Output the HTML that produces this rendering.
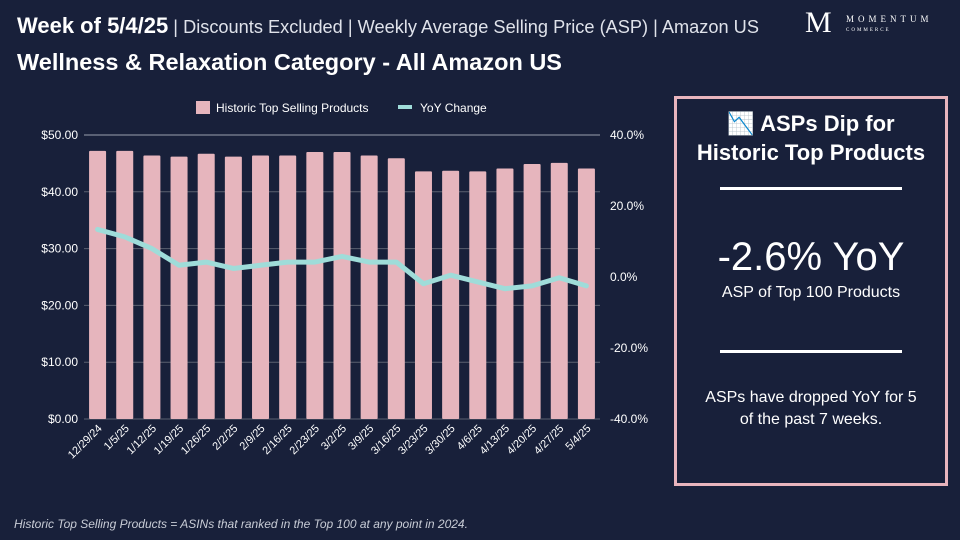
<!DOCTYPE html>
<html><head><meta charset="utf-8"><style>
body{margin:0;width:960px;height:540px;background:#18203a;font-family:"Liberation Sans",sans-serif;overflow:hidden;position:relative;color:#fff}
.h1{position:absolute;left:17px;top:13px;font-size:22px;white-space:nowrap}
.h1 b{font-weight:bold}.h1 span{font-weight:300;color:#dfe2ea;font-size:18.2px}
.h2{position:absolute;left:17px;top:49px;font-size:23.5px;font-weight:bold}
.logo{position:absolute;left:800px;top:8px;font-family:"Liberation Serif",serif}
.panel{position:absolute;left:674px;top:96px;width:268px;height:384px;border:3px solid #e8b4bd}
.foot{position:absolute;left:14px;top:517px;font-size:12px;font-style:italic;color:#c8ccd6}
</style></head><body>
<div class="h1"><b>Week of 5/4/25</b><span> | Discounts Excluded | Weekly Average Selling Price (ASP) | Amazon US</span></div>
<div class="h2">Wellness &amp; Relaxation Category - All Amazon US</div>
<div class="logo"><span style="font-size:30px;position:absolute;left:5px;top:-2px">M</span><span style="position:absolute;left:46px;top:6px;font-size:9px;letter-spacing:4px">MOMENTUM</span><span style="position:absolute;left:46px;top:20px;font-size:5px;letter-spacing:2px">COMMERCE</span></div>
<svg id="chart" width="660" height="540" style="position:absolute;left:0;top:0"></svg>
<div class="panel">
<div style="text-align:center;margin-top:10px;font-size:22px;font-weight:bold;line-height:29px">📉 ASPs Dip for<br>Historic Top Products</div>
<div style="width:182px;height:3px;background:#fff;margin:20px auto 0"></div>
<div style="text-align:center;font-size:40px;margin-top:45px">-2.6% YoY</div>
<div style="text-align:center;font-size:16px;margin-top:4px">ASP of Top 100 Products</div>
<div style="width:182px;height:3px;background:#fff;margin:48px auto 0"></div>
<div style="text-align:center;font-size:16px;margin-top:34px;line-height:22px">ASPs have dropped YoY for 5<br>of the past 7 weeks.</div>
</div>
<div class="foot">Historic Top Selling Products = ASINs that ranked in the Top 100 at any point in 2024.</div>
<script>
const categories=["12/29/24","1/5/25","1/12/25","1/19/25","1/26/25","2/2/25","2/9/25","2/16/25","2/23/25","3/2/25","3/9/25","3/16/25","3/23/25","3/30/25","4/6/25","4/13/25","4/20/25","4/27/25","5/4/25"];
const aspValues=[47.2,47.2,46.4,46.2,46.7,46.2,46.4,46.4,47.0,47.0,46.4,45.9,43.6,43.7,43.6,44.1,44.9,45.1,44.1];
const yoyValues=[13.4,11.3,8.0,3.3,4.2,2.4,3.3,4.2,4.2,5.8,4.2,4.2,-1.9,0.5,-1.4,-3.3,-2.5,-0.2,-2.5];
const leftTicks=[0,10,20,30,40,50];
const rightTicks=[-40,-20,0,20,40];
const svg=document.getElementById('chart');const NS='http://www.w3.org/2000/svg';
const X0=84,X1=600,Y0=419,Y1=135;
const yL=v=>Y0-(v/50)*(Y0-Y1);
const yR=v=>Y0-((v+40)/80)*(Y0-Y1);
const step=(X1-X0)/categories.length;
const xC=i=>X0+step*(i+0.5);
function mk(t,a){const e=document.createElementNS(NS,t);for(const k in a)e.setAttribute(k,a[k]);svg.appendChild(e);return e;}
leftTicks.forEach(v=>{const l=mk('line',{x1:X0,x2:X1,y1:yL(v),y2:yL(v),stroke:v==50?'#9aa0ad':'#5a6070','stroke-width':1});


const t=mk('text',{x:78,y:yL(v)+4,'text-anchor':'end','font-size':12,fill:'#fff'});t.textContent='$'+v.toFixed(2);

});
rightTicks.forEach(v=>{const t=mk('text',{x:610,y:yR(v)+4,'font-size':12,fill:'#fff'});t.textContent=v.toFixed(1)+'%';

});
aspValues.forEach((v,i)=>{const r=mk('rect',{x:xC(i)-8.5,y:yL(v),width:17,height:Y0-yL(v),fill:'#e6b5bd',rx:1});


const t=mk('text',{x:xC(i)+5,y:Y0+10,'text-anchor':'end','font-size':11,fill:'#fff',transform:`rotate(-45 ${xC(i)+5} ${Y0+10})`});t.textContent=categories[i];

});
const p=mk('polyline',{points:yoyValues.map((v,i)=>xC(i)+','+yR(v)).join(' '),fill:'none',stroke:'#9fdcd9','stroke-width':5,'stroke-linejoin':'round','stroke-linecap':'round'});


const lr=mk('rect',{x:196,y:101,width:14,height:13,fill:'#e6b5bd'});


const lt=mk('text',{x:216,y:112,'font-size':12,fill:'#fff'});lt.textContent='Historic Top Selling Products';


const ll=mk('line',{x1:398,x2:412,y1:107,y2:107,stroke:'#9fdcd9','stroke-width':4});


const lt2=mk('text',{x:420,y:112,'font-size':12,fill:'#fff'});lt2.textContent='YoY Change';


</script>
</body></html>
